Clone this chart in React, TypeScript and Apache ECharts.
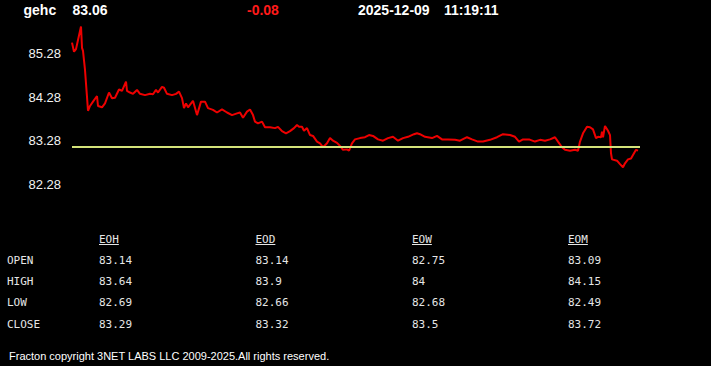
import React, { useEffect, useRef } from "react";
import * as echarts from "echarts";

const symbol = "gehc";
const lastPrice = "83.06";
const change = "-0.08";
const dateText = "2025-12-09";
const timeText = "11:19:11";
const refLevel = 83.14;

const yTicks = [81.28, 86.28];
const yInterval = 1;

const minutes = [
  0, 2, 4, 6, 9, 10, 11, 13, 15, 16,
  18, 21, 25, 26, 30, 33, 37, 40, 43, 47,
  50, 54, 55, 58, 61, 65, 68, 73, 78, 81,
  84, 86, 90, 92, 95, 100, 104, 107, 110, 112,
  114, 116, 121, 125, 129, 133, 136, 141, 145, 150,
  155, 160, 165, 168, 171, 175, 178, 181, 183, 186,
  190, 193, 198, 203, 206, 210, 214, 218, 222, 225,
  227, 230, 232, 235, 238, 241, 245, 248, 251, 255,
  258, 261, 265, 268, 271, 275, 277, 280, 283, 288,
  293, 297, 301, 306, 311, 316, 321, 326, 331, 336,
  342, 345, 348, 353, 360, 365, 370, 376, 383, 388,
  395, 400, 406, 411, 418, 425, 431, 438, 443, 447,
  451, 457, 463, 468, 473, 478, 483, 486, 490, 493,
  498, 503, 506, 508, 511, 515, 518, 521, 524, 526,
  529, 530, 531, 533, 536, 538, 539, 540, 545, 548,
  551, 553, 556, 559, 561, 564, 566,
];

const prices = [
  85.54, 85.33, 85.39, 85.6, 85.91, 85.42, 85.35, 84.91, 84.29, 83.97,
  84.08, 84.18, 84.31, 84.08, 84.05, 84.14, 84.39, 84.26, 84.27, 84.46,
  84.43, 84.64, 84.43, 84.39, 84.36, 84.45, 84.36, 84.33, 84.36, 84.35,
  84.45, 84.39, 84.52, 84.5, 84.36, 84.33, 84.36, 84.41, 84.26, 84.03,
  84.14, 84.05, 84.2, 83.87, 84.18, 84.18, 84.03, 83.99, 83.93, 84.0,
  83.93, 83.87, 83.91, 83.93, 83.81, 83.95, 84.0, 83.87, 83.72, 83.68,
  83.72, 83.59, 83.59, 83.57, 83.6, 83.5, 83.45, 83.5, 83.57, 83.64,
  83.6, 83.6, 83.51, 83.57, 83.41, 83.39, 83.26, 83.22, 83.13, 83.22,
  83.34, 83.28, 83.23, 83.16, 83.07, 83.08, 83.05, 83.22, 83.31, 83.34,
  83.36, 83.41, 83.39, 83.31, 83.28, 83.34, 83.37, 83.28, 83.34, 83.37,
  83.43, 83.45, 83.43, 83.37, 83.34, 83.39, 83.31, 83.31, 83.3, 83.28,
  83.36, 83.31, 83.26, 83.26, 83.3, 83.36, 83.43, 83.41, 83.37, 83.26,
  83.31, 83.31, 83.26, 83.3, 83.28, 83.31, 83.36, 83.26, 83.13, 83.07,
  83.05, 83.07, 83.05, 83.26, 83.45, 83.6, 83.59, 83.54, 83.34, 83.37,
  83.36, 83.49, 83.36, 83.62, 83.51, 83.41, 82.99, 82.85, 82.82, 82.74,
  82.67, 82.76, 82.85, 82.87, 82.95, 83.07, 83.05,
];

const xSpan = [0, 568];

const colHeaders = ["EOH", "EOD", "EOW", "EOM"];
const rowLabels = ["OPEN", "HIGH", "LOW", "CLOSE"];
const eohValues = ["83.14", "83.64", "82.69", "83.29"];
const eodValues = ["83.14", "83.9", "82.66", "83.32"];
const eowValues = ["82.75", "84", "82.68", "83.5"];
const eomValues = ["83.09", "84.15", "82.49", "83.72"];

const footerText = "Fracton copyright 3NET LABS LLC 2009-2025.All rights reserved.";

export default function App() {
  const ref = useRef<HTMLDivElement>(null);

  useEffect(() => {
    if (!ref.current) return;
    const chart = echarts.init(ref.current, undefined, { renderer: "svg" });

    const headFont = "bold 14px Arial, 'Liberation Sans', sans-serif";
    const monoFont = "11px 'DejaVu Sans Mono', monospace";
    const tableColor = "#e6e6e6";

    const columns = [eohValues, eodValues, eowValues, eomValues];
    const colX = [99, 255.5, 412, 568];
    const headerY = 239;
    const rowY = [260, 281.5, 302.5, 324.5];

    const graphics: any[] = [
      { type: "text", style: { text: symbol, x: 23.5, y: 10, fill: "#ffffff", font: headFont, textVerticalAlign: "middle" } },
      { type: "text", style: { text: lastPrice, x: 72.5, y: 10, fill: "#ffffff", font: headFont, textVerticalAlign: "middle" } },
      { type: "text", style: { text: change, x: 247, y: 10, fill: "#ff1a1a", font: headFont, textVerticalAlign: "middle" } },
      { type: "text", style: { text: dateText, x: 358, y: 10, fill: "#ffffff", font: headFont, textVerticalAlign: "middle" } },
      { type: "text", style: { text: timeText, x: 444, y: 10, fill: "#ffffff", font: headFont, textVerticalAlign: "middle" } },
      { type: "text", style: { text: footerText, x: 9, y: 355.5, fill: "#ffffff", font: "11px Arial, 'Liberation Sans', sans-serif", textVerticalAlign: "middle" } },
    ];

    colHeaders.forEach((h, i) => {
      graphics.push({ type: "text", style: { text: h, x: colX[i], y: headerY, fill: tableColor, font: monoFont, textVerticalAlign: "middle" } });
      const w = h.length * 0.602 * 11;
      graphics.push({ type: "line", shape: { x1: colX[i], y1: headerY + 5.5, x2: colX[i] + w, y2: headerY + 5.5 }, style: { stroke: tableColor, lineWidth: 1 } });
    });
    rowLabels.forEach((r, j) => {
      graphics.push({ type: "text", style: { text: r, x: 7, y: rowY[j], fill: tableColor, font: monoFont, textVerticalAlign: "middle" } });
      columns.forEach((col, i) => {
        graphics.push({ type: "text", style: { text: col[j], x: colX[i], y: rowY[j], fill: tableColor, font: monoFont, textVerticalAlign: "middle" } });
      });
    });

    chart.setOption({
      animation: false,
      backgroundColor: "#000000",
      grid: { left: 72, right: 71, top: 10.5, height: 217 },
      xAxis: { type: "value", min: xSpan[0], max: xSpan[1], show: false },
      yAxis: {
        type: "value",
        min: yTicks[0],
        max: yTicks[1],
        interval: yInterval,
        axisLine: { show: false },
        axisTick: { show: false },
        splitLine: { show: false },
        axisLabel: {
          showMinLabel: false,
          showMaxLabel: false,
          color: "#f2f2f2",
          fontSize: 13,
          fontFamily: "Arial, 'Liberation Sans', sans-serif",
          margin: 11,
          formatter: (v: number) => v.toFixed(2),
        },
      },
      series: [
        {
          type: "line",
          data: minutes.map((m, i) => [m, prices[i]]),
          showSymbol: false,
          lineStyle: { color: "#ee0000", width: 2 },
          markLine: {
            silent: true,
            symbol: "none",
            label: { show: false },
            lineStyle: { color: "#d4e37a", width: 2, type: "solid" },
            data: [{ yAxis: refLevel }],
          },
        },
      ],
      graphic: graphics,
    });

    return () => chart.dispose();
  }, []);

  return (
    <div
      ref={ref}
      style={{ position: "fixed", left: 0, top: 0, width: 711, height: 366, background: "#000" }}
    />
  );
}
